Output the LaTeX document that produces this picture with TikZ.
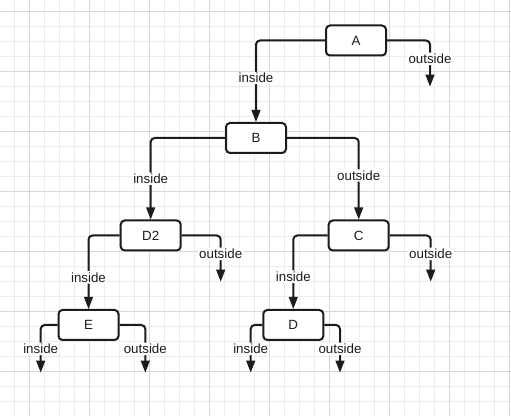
\documentclass[tikz,border=0pt]{standalone}
\usepackage{fontspec}
\setmainfont{Liberation Sans}
\usetikzlibrary{arrows.meta}
\definecolor{gridminor}{RGB}{236,236,236}
\definecolor{gridmajor}{RGB}{216,216,216}
\definecolor{inkdark}{RGB}{28,28,28}

\begin{document}
\begin{tikzpicture}[
  x=0.75pt, y=-0.75pt,
  every node/.style={font=\fontsize{10}{12}\selectfont, text=inkdark},
  test/.style={draw=inkdark, line width=1.5pt, rounded corners=3pt,
               fill=white, minimum width=45pt, minimum height=22.5pt,
               inner sep=0pt},
  branch/.style={draw=inkdark, line width=1.5pt, rounded corners=3pt,
                 -{Triangle[length=9pt, width=6.5pt]}},
  lbl/.style={fill=white, inner sep=1pt, pos=0.75},
]

%% Page and grid
\useasboundingbox (0, 0) rectangle (511, 416);
\fill[white] (0, 0) rectangle (511, 416);
\foreach \gx in {14.3, 29.3, ..., 510} {
  \draw[gridminor, line width=0.6pt] (\gx, 0) -- (\gx, 416);
}
\foreach \gy in {11.3, 26.3, ..., 416} {
  \draw[gridminor, line width=0.6pt] (0, \gy) -- (511, \gy);
}
\foreach \gx in {29.3, 89.3, ..., 510} {
  \draw[gridmajor, line width=0.6pt] (\gx, 0) -- (\gx, 416);
}
\foreach \gy in {11.3, 71.3, ..., 416} {
  \draw[gridmajor, line width=0.6pt] (0, \gy) -- (511, \gy);
}

%% Tests
\node[test] (A)  at (356.0, 40.5)  {A};
\node[test] (B)  at (256.0, 138.0) {B};
\node[test] (D2) at (150.7, 235.5) {D2};
\node[test] (C)  at (358.7, 235.5) {C};
\node[test] (E)  at (88.5, 325.0)  {E};
\node[test] (D)  at (293.3, 325.0) {D};

%% Open ends
\coordinate (Aout)  at (430.0, 86.7);
\coordinate (D2out) at (220.7, 281.7);
\coordinate (Cout)  at (430.7, 281.7);
\coordinate (Ein)   at (40.7, 372.7);
\coordinate (Eout)  at (145.3, 372.7);
\coordinate (Din)   at (250.7, 372.7);
\coordinate (Dout)  at (340.0, 372.7);

%% Branches
\draw[branch] (A.west)  -| node[lbl, pos=0.73] {inside}  (B.north);
\draw[branch] (A.east)  -| node[lbl, pos=0.7] {outside} (Aout);
\draw[branch] (B.west)  -| node[lbl] {inside}  (D2.north);
\draw[branch] (B.east)  -| node[lbl, pos=0.73] {outside} (C.north);
\draw[branch] (D2.west) -| node[lbl, pos=0.785] {inside}  (E.north);
\draw[branch] (D2.east) -| node[lbl, pos=0.7] {outside} (D2out);
\draw[branch] (C.west)  -| node[lbl, pos=0.78] {inside}  (D.north);
\draw[branch] (C.east)  -| node[lbl, pos=0.7] {outside} (Cout);
\draw[branch] (E.west)  -| node[lbl] {inside}  (Ein);
\draw[branch] (E.east)  -| node[lbl] {outside} (Eout);
\draw[branch] (D.west)  -| node[lbl] {inside}  (Din);
\draw[branch] (D.east)  -| node[lbl] {outside} (Dout);

\end{tikzpicture}
\end{document}
